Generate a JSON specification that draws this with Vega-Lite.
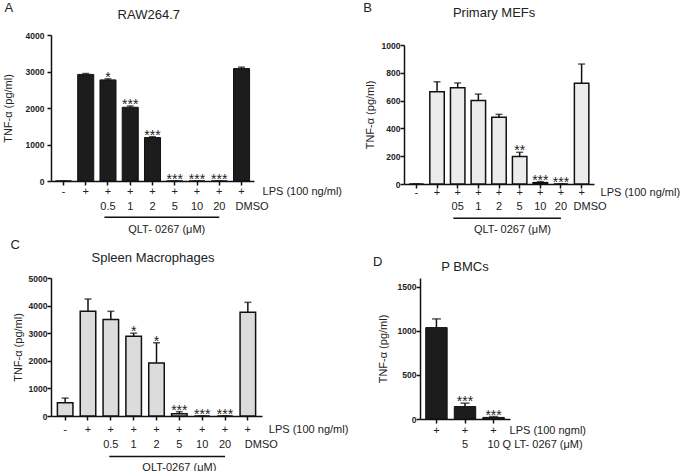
{
  "$schema": "https://vega.github.io/schema/vega-lite/v6.json",
  "background": "white",
  "padding": {"left": 2, "top": 1, "right": 0, "bottom": 0},
  "config": {
    "font": "Liberation Sans",
    "view": {"stroke": null},
    "axis": {"domainColor": "#111", "domainWidth": 1.5, "tickColor": "#111", "tickWidth": 1.5, "tickSize": 4, "grid": false, "labelFont": "Liberation Sans", "titleFont": "Liberation Sans"},
    "axisY": {"labelFontWeight": "bold", "labelFontSize": 8.5, "labelColor": "#222", "titleFontWeight": "normal", "titleFontSize": 11, "titleColor": "#222", "format": "d", "labelOverlap": false},
    "axisX": {"labels": false, "title": null, "ticks": true},
    "text": {"font": "Liberation Sans", "color": "#222"}
  },
  "datasets": {
    "A": [
      {"cond": "ctrl", "lps": "-", "conc": "", "mean": 0, "hi": 0, "sig": ""},
      {"cond": "lps", "lps": "+", "conc": "", "mean": 2920, "hi": 2945, "sig": ""},
      {"cond": "0.5", "lps": "+", "conc": "0.5", "mean": 2770, "hi": 2800, "sig": "*"},
      {"cond": "1", "lps": "+", "conc": "1", "mean": 2020, "hi": 2055, "sig": "***"},
      {"cond": "2", "lps": "+", "conc": "2", "mean": 1190, "hi": 1215, "sig": "***"},
      {"cond": "5", "lps": "+", "conc": "5", "mean": 0, "hi": 0, "sig": "***"},
      {"cond": "10", "lps": "+", "conc": "10", "mean": 0, "hi": 0, "sig": "***"},
      {"cond": "20", "lps": "+", "conc": "20", "mean": 0, "hi": 0, "sig": "***"},
      {"cond": "DMSO", "lps": "+", "conc": "DMSO", "mean": 3080, "hi": 3120, "sig": ""}
    ],
    "B": [
      {"cond": "ctrl", "lps": "-", "conc": "", "mean": 0, "hi": 0, "sig": ""},
      {"cond": "lps", "lps": "+", "conc": "", "mean": 664, "hi": 736, "sig": ""},
      {"cond": "0.5", "lps": "+", "conc": "05", "mean": 693, "hi": 727, "sig": ""},
      {"cond": "1", "lps": "+", "conc": "1", "mean": 600, "hi": 647, "sig": ""},
      {"cond": "2", "lps": "+", "conc": "2", "mean": 480, "hi": 501, "sig": ""},
      {"cond": "5", "lps": "+", "conc": "5", "mean": 197, "hi": 228, "sig": "**"},
      {"cond": "10", "lps": "+", "conc": "10", "mean": 10, "hi": 17, "sig": "***"},
      {"cond": "20", "lps": "+", "conc": "20", "mean": 0, "hi": 0, "sig": "***"},
      {"cond": "DMSO", "lps": "+", "conc": "DMSO", "mean": 724, "hi": 863, "sig": ""}
    ],
    "C": [
      {"cond": "ctrl", "lps": "-", "conc": "", "mean": 480, "hi": 648, "sig": ""},
      {"cond": "lps", "lps": "+", "conc": "", "mean": 3793, "hi": 4238, "sig": ""},
      {"cond": "0.5", "lps": "+", "conc": "0.5", "mean": 3493, "hi": 3793, "sig": ""},
      {"cond": "1", "lps": "+", "conc": "1", "mean": 2893, "hi": 3001, "sig": "*"},
      {"cond": "2", "lps": "+", "conc": "2", "mean": 1921, "hi": 2653, "sig": "*"},
      {"cond": "5", "lps": "+", "conc": "5", "mean": 84, "hi": 156, "sig": "***"},
      {"cond": "10", "lps": "+", "conc": "10", "mean": 0, "hi": 0, "sig": "***"},
      {"cond": "20", "lps": "+", "conc": "20", "mean": 0, "hi": 0, "sig": "***"},
      {"cond": "DMSO", "lps": "+", "conc": "DMSO", "mean": 3757, "hi": 4118, "sig": ""}
    ],
    "D": [
      {"cond": "lps", "lps": "+", "conc": "", "mean": 1037, "hi": 1136, "sig": ""},
      {"cond": "5", "lps": "+", "conc": "5", "mean": 141, "hi": 180, "sig": "***"},
      {"cond": "10", "lps": "+", "conc": "10", "mean": 18, "hi": 28, "sig": "***"}
    ]
  },
  "spacing": 4,
  "vconcat": [
    {
      "bounds": "flush",
      "spacing": 150,
      "hconcat": [
        {
          "data": {"name": "A"},
          "width": 203, "height": 146,
          "layer": [
            {"mark": {"type": "bar", "fill": "#1c1c1c", "stroke": "#111", "strokeWidth": 1},
             "encoding": {
               "x": {"field": "cond", "type": "nominal", "scale": {"domain": ["ctrl", "lps", "0.5", "1", "2", "5", "10", "20", "DMSO"], "paddingInner": 0.28, "paddingOuter": 0.2}},
               "y": {"field": "mean", "type": "quantitative", "scale": {"domain": [0, 4000]}, "axis": {"values": [0, 1000, 2000, 3000, 4000], "title": "TNF-α (pg/ml)", "titlePadding": 12, "labelPadding": 3}}}},
            {"mark": {"type": "rule", "strokeWidth": 1.5, "color": "#111"},
             "encoding": {"x": {"field": "cond", "type": "nominal"}, "y": {"field": "mean", "type": "quantitative", "axis": {"values": [0, 1000, 2000, 3000, 4000], "title": "TNF-α (pg/ml)", "titlePadding": 12, "labelPadding": 3}}, "y2": {"field": "hi"}}},
            {"mark": {"type": "tick", "orient": "horizontal", "size": 7, "thickness": 1.5, "color": "#111"},
             "encoding": {"x": {"field": "cond", "type": "nominal"}, "y": {"field": "hi", "type": "quantitative", "axis": {"values": [0, 1000, 2000, 3000, 4000], "title": "TNF-α (pg/ml)", "titlePadding": 12, "labelPadding": 3}}}},
            {"mark": {"type": "text", "fontSize": 14, "baseline": "alphabetic", "dy": 3},
             "encoding": {"x": {"field": "cond", "type": "nominal"}, "y": {"field": "hi", "type": "quantitative", "axis": {"values": [0, 1000, 2000, 3000, 4000], "title": "TNF-α (pg/ml)", "titlePadding": 12, "labelPadding": 3}}, "text": {"field": "sig"}}},
            {"mark": {"type": "text", "fontSize": 11, "baseline": "middle", "dy": 11},
             "encoding": {"x": {"field": "cond", "type": "nominal"}, "y": {"datum": 0, "type": "quantitative", "axis": {"values": [0, 1000, 2000, 3000, 4000], "title": "TNF-α (pg/ml)", "titlePadding": 12, "labelPadding": 3}}, "text": {"field": "lps"}}},
            {"transform": [{"filter": "datum.cond != 'DMSO'"}],
             "mark": {"type": "text", "fontSize": 11, "baseline": "middle", "dy": 25.5},
             "encoding": {"x": {"field": "cond", "type": "nominal"}, "y": {"datum": 0, "type": "quantitative", "axis": {"values": [0, 1000, 2000, 3000, 4000], "title": "TNF-α (pg/ml)", "titlePadding": 12, "labelPadding": 3}}, "text": {"field": "conc"}}},
            {"transform": [{"filter": "datum.cond == 'DMSO'"}],
             "mark": {"type": "text", "fontSize": 11, "baseline": "middle", "align": "left", "dx": -6, "dy": 25.5},
             "encoding": {"x": {"field": "cond", "type": "nominal"}, "y": {"datum": 0, "type": "quantitative", "axis": {"values": [0, 1000, 2000, 3000, 4000], "title": "TNF-α (pg/ml)", "titlePadding": 12, "labelPadding": 3}}, "text": {"field": "conc"}}},
            {"data": {"values": [{}]},
             "mark": {"type": "rule", "strokeWidth": 1.5, "color": "#111"},
             "encoding": {"x": {"datum": "0.5", "type": "nominal", "bandPosition": 0.28}, "x2": {"datum": "20"}, "y": {"datum": -990, "type": "quantitative", "axis": {"values": [0, 1000, 2000, 3000, 4000], "title": "TNF-α (pg/ml)", "titlePadding": 12, "labelPadding": 3}}}},
            {"data": {"values": [{}]},
             "mark": {"type": "text", "fontSize": 11, "baseline": "middle", "dy": 48.5, "text": "QLT- 0267  (μM)"},
             "encoding": {"x": {"datum": "5", "type": "nominal", "bandPosition": 0}, "y": {"datum": 0, "type": "quantitative", "axis": {"values": [0, 1000, 2000, 3000, 4000], "title": "TNF-α (pg/ml)", "titlePadding": 12, "labelPadding": 3}}}},
            {"data": {"values": [{}]},
             "mark": {"type": "text", "fontSize": 11, "baseline": "middle", "align": "left", "dx": 21, "dy": 11, "text": "LPS (100 ng/ml)"},
             "encoding": {"x": {"datum": "DMSO", "type": "nominal"}, "y": {"datum": 0, "type": "quantitative", "axis": {"values": [0, 1000, 2000, 3000, 4000], "title": "TNF-α (pg/ml)", "titlePadding": 12, "labelPadding": 3}}}},
            {"data": {"values": [{}]},
             "mark": {"type": "text", "fontSize": 13, "baseline": "middle", "dx": -3.7, "dy": -20, "text": "RAW264.7"},
             "encoding": {"x": {"datum": "2", "type": "nominal"}, "y": {"datum": 4000, "type": "quantitative", "axis": {"values": [0, 1000, 2000, 3000, 4000], "title": "TNF-α (pg/ml)", "titlePadding": 12, "labelPadding": 3}}}},
            {"data": {"values": [{}]},
             "mark": {"type": "text", "fontSize": 13, "baseline": "middle", "align": "left", "dx": -51, "dy": -27.3, "text": "A"},
             "encoding": {"x": {"datum": "ctrl", "type": "nominal", "bandPosition": 0}, "y": {"datum": 4000, "type": "quantitative", "axis": {"values": [0, 1000, 2000, 3000, 4000], "title": "TNF-α (pg/ml)", "titlePadding": 12, "labelPadding": 3}}}}
          ]
        },
        {
          "data": {"name": "B"},
          "width": 190, "height": 149,
          "layer": [
            {"mark": {"type": "bar", "fill": "#ececec", "stroke": "#111", "strokeWidth": 1.5},
             "encoding": {
               "x": {"field": "cond", "type": "nominal", "scale": {"domain": ["ctrl", "lps", "0.5", "1", "2", "5", "10", "20", "DMSO"], "paddingInner": 0.3, "paddingOuter": 0.25}},
               "y": {"field": "mean", "type": "quantitative", "scale": {"domain": [0, 1000], "range": [149, 10]}, "axis": {"values": [0, 200, 400, 600, 800, 1000], "title": "TNF-α (pg/ml)", "titlePadding": 6, "labelPadding": 0}}}},
            {"mark": {"type": "rule", "strokeWidth": 1.5, "color": "#111"},
             "encoding": {"x": {"field": "cond", "type": "nominal"}, "y": {"field": "mean", "type": "quantitative", "axis": {"values": [0, 200, 400, 600, 800, 1000], "title": "TNF-α (pg/ml)", "titlePadding": 6, "labelPadding": 0}}, "y2": {"field": "hi"}}},
            {"mark": {"type": "tick", "orient": "horizontal", "size": 7, "thickness": 1.5, "color": "#111"},
             "encoding": {"x": {"field": "cond", "type": "nominal"}, "y": {"field": "hi", "type": "quantitative", "axis": {"values": [0, 200, 400, 600, 800, 1000], "title": "TNF-α (pg/ml)", "titlePadding": 6, "labelPadding": 0}}}},
            {"mark": {"type": "text", "fontSize": 14, "baseline": "alphabetic", "dy": 3},
             "encoding": {"x": {"field": "cond", "type": "nominal"}, "y": {"field": "hi", "type": "quantitative", "axis": {"values": [0, 200, 400, 600, 800, 1000], "title": "TNF-α (pg/ml)", "titlePadding": 6, "labelPadding": 0}}, "text": {"field": "sig"}}},
            {"mark": {"type": "text", "fontSize": 11, "baseline": "middle", "dy": 8.5},
             "encoding": {"x": {"field": "cond", "type": "nominal"}, "y": {"datum": 0, "type": "quantitative", "axis": {"values": [0, 200, 400, 600, 800, 1000], "title": "TNF-α (pg/ml)", "titlePadding": 6, "labelPadding": 0}}, "text": {"field": "lps"}}},
            {"transform": [{"filter": "datum.cond != 'DMSO'"}],
             "mark": {"type": "text", "fontSize": 11, "baseline": "middle", "dy": 22.7},
             "encoding": {"x": {"field": "cond", "type": "nominal"}, "y": {"datum": 0, "type": "quantitative", "axis": {"values": [0, 200, 400, 600, 800, 1000], "title": "TNF-α (pg/ml)", "titlePadding": 6, "labelPadding": 0}}, "text": {"field": "conc"}}},
            {"transform": [{"filter": "datum.cond == 'DMSO'"}],
             "mark": {"type": "text", "fontSize": 11, "baseline": "middle", "align": "left", "dx": -8, "dy": 22.7},
             "encoding": {"x": {"field": "cond", "type": "nominal"}, "y": {"datum": 0, "type": "quantitative", "axis": {"values": [0, 200, 400, 600, 800, 1000], "title": "TNF-α (pg/ml)", "titlePadding": 6, "labelPadding": 0}}, "text": {"field": "conc"}}},
            {"data": {"values": [{}]},
             "mark": {"type": "rule", "strokeWidth": 1.5, "color": "#111"},
             "encoding": {"x": {"datum": "0.5", "type": "nominal", "bandPosition": 0.2}, "x2": {"datum": "20"}, "y": {"datum": -247, "type": "quantitative", "axis": {"values": [0, 200, 400, 600, 800, 1000], "title": "TNF-α (pg/ml)", "titlePadding": 6, "labelPadding": 0}}}},
            {"data": {"values": [{}]},
             "mark": {"type": "text", "fontSize": 11, "baseline": "middle", "dy": 46, "text": "QLT- 0267  (μM)"},
             "encoding": {"x": {"datum": "5", "type": "nominal", "bandPosition": 0}, "y": {"datum": 0, "type": "quantitative", "axis": {"values": [0, 200, 400, 600, 800, 1000], "title": "TNF-α (pg/ml)", "titlePadding": 6, "labelPadding": 0}}}},
            {"data": {"values": [{}]},
             "mark": {"type": "text", "fontSize": 11, "baseline": "middle", "align": "left", "dx": 19, "dy": 8.5, "text": "LPS (100 ng/ml)"},
             "encoding": {"x": {"datum": "DMSO", "type": "nominal"}, "y": {"datum": 0, "type": "quantitative", "axis": {"values": [0, 200, 400, 600, 800, 1000], "title": "TNF-α (pg/ml)", "titlePadding": 6, "labelPadding": 0}}}},
            {"data": {"values": [{}]},
             "mark": {"type": "text", "fontSize": 13, "baseline": "middle", "dx": -4.9, "dy": -31.7, "text": "Primary MEFs"},
             "encoding": {"x": {"datum": "2", "type": "nominal"}, "y": {"datum": 1000, "type": "quantitative", "axis": {"values": [0, 200, 400, 600, 800, 1000], "title": "TNF-α (pg/ml)", "titlePadding": 6, "labelPadding": 0}}}},
            {"data": {"values": [{}]},
             "mark": {"type": "text", "fontSize": 13, "baseline": "middle", "align": "left", "dx": -46, "dy": -37.5, "text": "B"},
             "encoding": {"x": {"datum": "ctrl", "type": "nominal", "bandPosition": 0}, "y": {"datum": 1000, "type": "quantitative", "axis": {"values": [0, 200, 400, 600, 800, 1000], "title": "TNF-α (pg/ml)", "titlePadding": 6, "labelPadding": 0}}}}
          ]
        }
      ]
    },
    {
      "bounds": "flush",
      "spacing": 158,
      "hconcat": [
        {
          "data": {"name": "C"},
          "width": 211, "height": 138,
          "layer": [
            {"mark": {"type": "bar", "fill": "#dcdcdc", "stroke": "#111", "strokeWidth": 1.5},
             "encoding": {
               "x": {"field": "cond", "type": "nominal", "scale": {"domain": ["ctrl", "lps", "0.5", "1", "2", "5", "10", "20", "DMSO"], "paddingInner": 0.32, "paddingOuter": 0.28}},
               "y": {"field": "mean", "type": "quantitative", "scale": {"domain": [0, 5000]}, "axis": {"values": [0, 1000, 2000, 3000, 4000, 5000], "title": "TNF-α (pg/ml)", "titlePadding": 5, "labelPadding": 0}}}},
            {"mark": {"type": "rule", "strokeWidth": 1.5, "color": "#111"},
             "encoding": {"x": {"field": "cond", "type": "nominal"}, "y": {"field": "mean", "type": "quantitative", "axis": {"values": [0, 1000, 2000, 3000, 4000, 5000], "title": "TNF-α (pg/ml)", "titlePadding": 5, "labelPadding": 0}}, "y2": {"field": "hi"}}},
            {"mark": {"type": "tick", "orient": "horizontal", "size": 7, "thickness": 1.5, "color": "#111"},
             "encoding": {"x": {"field": "cond", "type": "nominal"}, "y": {"field": "hi", "type": "quantitative", "axis": {"values": [0, 1000, 2000, 3000, 4000, 5000], "title": "TNF-α (pg/ml)", "titlePadding": 5, "labelPadding": 0}}}},
            {"mark": {"type": "text", "fontSize": 14, "baseline": "alphabetic", "dy": 3},
             "encoding": {"x": {"field": "cond", "type": "nominal"}, "y": {"field": "hi", "type": "quantitative", "axis": {"values": [0, 1000, 2000, 3000, 4000, 5000], "title": "TNF-α (pg/ml)", "titlePadding": 5, "labelPadding": 0}}, "text": {"field": "sig"}}},
            {"mark": {"type": "text", "fontSize": 11, "baseline": "middle", "dy": 14},
             "encoding": {"x": {"field": "cond", "type": "nominal"}, "y": {"datum": 0, "type": "quantitative", "axis": {"values": [0, 1000, 2000, 3000, 4000, 5000], "title": "TNF-α (pg/ml)", "titlePadding": 5, "labelPadding": 0}}, "text": {"field": "lps"}}},
            {"transform": [{"filter": "datum.cond != 'DMSO'"}],
             "mark": {"type": "text", "fontSize": 11, "baseline": "middle", "dy": 29},
             "encoding": {"x": {"field": "cond", "type": "nominal"}, "y": {"datum": 0, "type": "quantitative", "axis": {"values": [0, 1000, 2000, 3000, 4000, 5000], "title": "TNF-α (pg/ml)", "titlePadding": 5, "labelPadding": 0}}, "text": {"field": "conc"}}},
            {"transform": [{"filter": "datum.cond == 'DMSO'"}],
             "mark": {"type": "text", "fontSize": 11, "baseline": "middle", "align": "left", "dx": -3, "dy": 29},
             "encoding": {"x": {"field": "cond", "type": "nominal"}, "y": {"datum": 0, "type": "quantitative", "axis": {"values": [0, 1000, 2000, 3000, 4000, 5000], "title": "TNF-α (pg/ml)", "titlePadding": 5, "labelPadding": 0}}, "text": {"field": "conc"}}},
            {"data": {"values": [{}]},
             "mark": {"type": "rule", "strokeWidth": 1.5, "color": "#111"},
             "encoding": {"x": {"datum": "0.5", "type": "nominal", "bandPosition": 0.4}, "x2": {"datum": "20"}, "y": {"datum": -1467, "type": "quantitative", "axis": {"values": [0, 1000, 2000, 3000, 4000, 5000], "title": "TNF-α (pg/ml)", "titlePadding": 5, "labelPadding": 0}}}},
            {"data": {"values": [{}]},
             "mark": {"type": "text", "fontSize": 11, "baseline": "middle", "dy": 52, "text": "QLT-0267  (μM)"},
             "encoding": {"x": {"datum": "5", "type": "nominal"}, "y": {"datum": 0, "type": "quantitative", "axis": {"values": [0, 1000, 2000, 3000, 4000, 5000], "title": "TNF-α (pg/ml)", "titlePadding": 5, "labelPadding": 0}}}},
            {"data": {"values": [{}]},
             "mark": {"type": "text", "fontSize": 11, "baseline": "middle", "align": "left", "dx": 21, "dy": 14, "text": "LPS (100 ng/ml)"},
             "encoding": {"x": {"datum": "DMSO", "type": "nominal"}, "y": {"datum": 0, "type": "quantitative", "axis": {"values": [0, 1000, 2000, 3000, 4000, 5000], "title": "TNF-α (pg/ml)", "titlePadding": 5, "labelPadding": 0}}}},
            {"data": {"values": [{}]},
             "mark": {"type": "text", "fontSize": 13, "baseline": "middle", "dx": -3.5, "dy": -20.3, "text": "Spleen Macrophages"},
             "encoding": {"x": {"datum": "2", "type": "nominal"}, "y": {"datum": 5000, "type": "quantitative", "axis": {"values": [0, 1000, 2000, 3000, 4000, 5000], "title": "TNF-α (pg/ml)", "titlePadding": 5, "labelPadding": 0}}}},
            {"data": {"values": [{}]},
             "mark": {"type": "text", "fontSize": 13, "baseline": "middle", "align": "left", "dx": -47, "dy": -32.6, "text": "C"},
             "encoding": {"x": {"datum": "ctrl", "type": "nominal", "bandPosition": 0}, "y": {"datum": 5000, "type": "quantitative", "axis": {"values": [0, 1000, 2000, 3000, 4000, 5000], "title": "TNF-α (pg/ml)", "titlePadding": 5, "labelPadding": 0}}}}
          ]
        },
        {
          "data": {"name": "D"},
          "width": 90, "height": 141,
          "layer": [
            {"mark": {"type": "bar", "fill": "#1c1c1c", "stroke": "#111", "strokeWidth": 1},
             "encoding": {
               "x": {"field": "cond", "type": "nominal", "scale": {"domain": ["lps", "5", "10"], "paddingInner": 0.25, "paddingOuter": 0.2}},
               "y": {"field": "mean", "type": "quantitative", "scale": {"domain": [0, 1500]}, "axis": {"values": [0, 500, 1000, 1500], "title": "TNF-α (pg/ml)", "titlePadding": 9, "labelPadding": 0}}}},
            {"mark": {"type": "rule", "strokeWidth": 1.5, "color": "#111"},
             "encoding": {"x": {"field": "cond", "type": "nominal"}, "y": {"field": "mean", "type": "quantitative", "axis": {"values": [0, 500, 1000, 1500], "title": "TNF-α (pg/ml)", "titlePadding": 9, "labelPadding": 0}}, "y2": {"field": "hi"}}},
            {"mark": {"type": "tick", "orient": "horizontal", "size": 9, "thickness": 1.5, "color": "#111"},
             "encoding": {"x": {"field": "cond", "type": "nominal"}, "y": {"field": "hi", "type": "quantitative", "axis": {"values": [0, 500, 1000, 1500], "title": "TNF-α (pg/ml)", "titlePadding": 9, "labelPadding": 0}}}},
            {"mark": {"type": "text", "fontSize": 14, "baseline": "alphabetic", "dy": 3},
             "encoding": {"x": {"field": "cond", "type": "nominal"}, "y": {"field": "hi", "type": "quantitative", "axis": {"values": [0, 500, 1000, 1500], "title": "TNF-α (pg/ml)", "titlePadding": 9, "labelPadding": 0}}, "text": {"field": "sig"}}},
            {"mark": {"type": "text", "fontSize": 11, "baseline": "middle", "dy": 12},
             "encoding": {"x": {"field": "cond", "type": "nominal"}, "y": {"datum": 0, "type": "quantitative", "axis": {"values": [0, 500, 1000, 1500], "title": "TNF-α (pg/ml)", "titlePadding": 9, "labelPadding": 0}}, "text": {"field": "lps"}}},
            {"mark": {"type": "text", "fontSize": 11, "baseline": "middle", "dy": 26.4},
             "encoding": {"x": {"field": "cond", "type": "nominal"}, "y": {"datum": 0, "type": "quantitative", "axis": {"values": [0, 500, 1000, 1500], "title": "TNF-α (pg/ml)", "titlePadding": 9, "labelPadding": 0}}, "text": {"field": "conc"}}},
            {"data": {"values": [{}]},
             "mark": {"type": "text", "fontSize": 11, "baseline": "middle", "align": "left", "dx": 16, "dy": 12, "text": "LPS (100 ngml)"},
             "encoding": {"x": {"datum": "10", "type": "nominal"}, "y": {"datum": 0, "type": "quantitative", "axis": {"values": [0, 500, 1000, 1500], "title": "TNF-α (pg/ml)", "titlePadding": 9, "labelPadding": 0}}}},
            {"data": {"values": [{}]},
             "mark": {"type": "text", "fontSize": 11, "baseline": "middle", "align": "left", "dx": 9, "dy": 26.4, "text": "Q LT- 0267 (μM)"},
             "encoding": {"x": {"datum": "10", "type": "nominal"}, "y": {"datum": 0, "type": "quantitative", "axis": {"values": [0, 500, 1000, 1500], "title": "TNF-α (pg/ml)", "titlePadding": 9, "labelPadding": 0}}}},
            {"data": {"values": [{}]},
             "mark": {"type": "text", "fontSize": 13, "baseline": "middle", "dy": -20, "text": "P BMCs"},
             "encoding": {"x": {"datum": "5", "type": "nominal"}, "y": {"datum": 1500, "type": "quantitative", "axis": {"values": [0, 500, 1000, 1500], "title": "TNF-α (pg/ml)", "titlePadding": 9, "labelPadding": 0}}}},
            {"data": {"values": [{}]},
             "mark": {"type": "text", "fontSize": 13, "baseline": "middle", "align": "left", "dx": -52.7, "dy": -25, "text": "D"},
             "encoding": {"x": {"datum": "lps", "type": "nominal", "bandPosition": 0}, "y": {"datum": 1500, "type": "quantitative", "axis": {"values": [0, 500, 1000, 1500], "title": "TNF-α (pg/ml)", "titlePadding": 9, "labelPadding": 0}}}}
          ]
        }
      ]
    }
  ]
}
